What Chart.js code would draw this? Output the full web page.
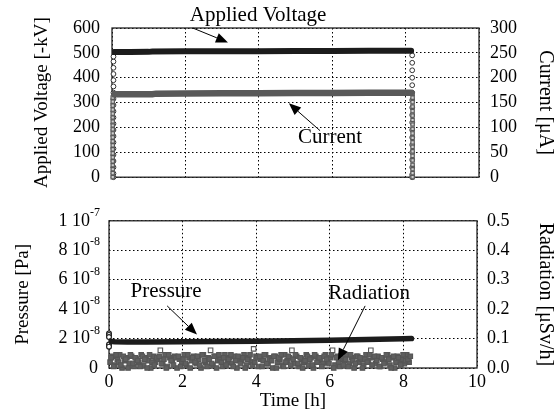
<!DOCTYPE html>
<html><head><meta charset="utf-8">
<script src="https://cdn.jsdelivr.net/npm/chart.js@4/dist/chart.umd.min.js"></script>
<style>
html,body{margin:0;padding:0;background:#fff;overflow:hidden;width:558px;height:411px}
#c1{position:absolute;left:0;top:0}
#c2{position:absolute;left:0;top:200px}
</style>
</head><body>
<canvas id="c1" width="558" height="200"></canvas>
<canvas id="c2" width="558" height="211"></canvas>
<script>
// ---------- DATA ----------
// Top panel: applied voltage [-kV] (left axis) and current [uA] (right axis)
const voltT = [0.05, 0.5, 1.0, 1.1, 2, 3, 4, 5, 6, 7, 8, 8.15];
const voltV = [503, 503, 504, 505, 506, 507, 507, 508, 508, 509, 509, 509];
const voltUpT = 0.04;
const voltUpV = [0, 15, 40, 65, 90, 115, 140, 165, 190, 215, 240, 265, 290, 315, 340, 365, 390, 415, 440, 465, 485];
const voltDownT = 8.18;
const voltDownV = [490, 460, 430, 400, 370, 340, 310, 280, 250, 220, 190, 160, 130, 100, 70, 40, 10, 0];

const curT = [0.03, 0.5, 1.1, 1.2, 2, 3, 4, 5, 6, 7, 8, 8.15];
const curV = [167, 167, 167, 168, 168.5, 169, 169, 169.5, 169.5, 170, 170, 170];
const curUpT = 0.02;
const curUpV = [0, 8, 16, 24, 32, 40, 48, 56, 64, 72, 80, 88, 96, 104, 112, 120, 128, 136, 144, 152, 160];
const curDownT = 8.19;
const curDownV = [168, 160, 151, 142, 133, 124, 115, 106, 97, 88, 79, 70, 61, 52, 43, 34, 25, 16, 8, 0];

// Bottom panel: pressure [Pa] (left axis) and radiation [uSv/h] (right axis)
const presT = [0.03, 0.15, 0.5, 1, 2, 3, 4, 5, 6, 7, 8, 8.22];
const presV = [1.82e-8, 1.78e-8, 1.77e-8, 1.77e-8, 1.78e-8, 1.8e-8, 1.82e-8, 1.85e-8, 1.89e-8, 1.93e-8, 1.98e-8, 2.0e-8];
const presSpikeT = 0.0;
const presSpikeV = [2.35e-8, 2.25e-8, 2.1e-8, 1.6e-8, 1.45e-8];

const radT0 = 0.03;      // first radiation sample time [h]
const radDT = 0.065;     // interval between samples of one reading series [h]
const radA = [
0.02,0.04,0.01,0.03,0.045,0.0,0.025,0.035,0.015,0.04,0.005,0.03,0.02,0.045,
0.01,0.035,0.025,0.0,0.04,0.02,0.03,0.06,0.015,0.045,0.005,0.035,0.025,0.04,
0.0,0.03,0.02,0.045,0.01,0.035,0.025,0.04,0.015,0.03,0.0,0.045,0.02,0.035,
0.06,0.01,0.04,0.025,0.03,0.005,0.045,0.02,0.035,0.015,0.04,0.0,0.03,0.025,
0.045,0.01,0.035,0.02,0.065,0.04,0.005,0.03,0.025,0.045,0.015,0.035,0.0,0.04,
0.02,0.03,0.01,0.045,0.025,0.035,0.06,0.015,0.04,0.005,0.03,0.02,0.045,0.01,
0.035,0.0,0.04,0.025,0.03,0.015,0.045,0.02,0.035,0.06,0.01,0.04,0.005,0.03,
0.025,0.045,0.015,0.035,0.0,0.04,0.02,0.03,0.01,0.045,0.025,0.06,0.035,0.015,
0.04,0.005,0.03,0.02,0.045,0.01,0.035,0.0,0.04,0.025,0.03,0.015,0.045,0.02];
const radB = [
0.035,0.005,0.045,0.02,0.01,0.04,0.03,0.0,0.045,0.015,0.035,0.025,0.005,0.04,
0.03,0.0,0.045,0.02,0.01,0.035,0.04,0.015,0.03,0.0,0.045,0.025,0.01,0.035,
0.04,0.005,0.03,0.015,0.045,0.0,0.035,0.02,0.04,0.01,0.045,0.025,0.005,0.03,
0.015,0.04,0.0,0.045,0.02,0.035,0.01,0.03,0.045,0.005,0.025,0.04,0.015,0.035,
0.0,0.03,0.045,0.01,0.02,0.035,0.04,0.005,0.045,0.015,0.03,0.025,0.04,0.0,
0.035,0.045,0.005,0.02,0.04,0.01,0.03,0.045,0.015,0.035,0.0,0.025,0.04,0.03,
0.01,0.045,0.02,0.035,0.005,0.04,0.03,0.015,0.045,0.0,0.035,0.02,0.04,0.01,
0.03,0.005,0.045,0.025,0.015,0.04,0.035,0.0,0.03,0.02,0.045,0.01,0.04,0.025,
0.005,0.035,0.015,0.045,0.03,0.0,0.04,0.02,0.035,0.01,0.045,0.025,0.03,0.04];

// Axis ranges / ticks
const xTicks = [0, 10, 2];
const voltAxis = [0, 600, 100];
const curAxis = [0, 300, 50];
const presAxis = [0, 1e-7, 2e-8];
const radAxis = [0, 0.5, 0.1];

// ---------- STYLE / HELPERS ----------
const SERIF = "'Liberation Serif','Times New Roman',serif";
Chart.defaults.font.family = SERIF;
Chart.defaults.color = '#000';

const pts = (t, v) => t.map((x, i) => ({x, y: v[i]}));
const col = (t, v) => v.map(y => ({x: t, y}));
const radPts = radA.map((y, i) => ({x: radT0 + i * radDT, y}))
  .concat(radB.map((y, i) => ({x: radT0 + radDT / 2 + i * radDT, y})));

const gridOpts = {color: '#000', lineWidth: 1, drawTicks: false};
const borderOpts = {display: false, dash: [1.5, 2.5]};

const boxPlugin = {
  id: 'box',
  beforeDatasetsDraw(chart) {
    const a = chart.chartArea, c = chart.ctx;
    c.save(); c.strokeStyle = '#222'; c.lineWidth = 1.3;
    c.strokeRect(a.left, a.top, a.right - a.left, a.bottom - a.top);
    c.restore();
  }
};

function annotPlugin(list, yId) {
  return {
    id: 'annot',
    afterDatasetsDraw(chart) {
      const c = chart.ctx, xs = chart.scales.x, ys = chart.scales[yId];
      c.save();
      list.forEach(a => {
        c.font = '21px ' + SERIF; c.fillStyle = '#000';
        c.textAlign = 'center'; c.textBaseline = 'middle';
        c.fillText(a.text, xs.getPixelForValue(a.tx), ys.getPixelForValue(a.ty));
        const x1 = xs.getPixelForValue(a.a[0]), y1 = ys.getPixelForValue(a.a[1]);
        const x2 = xs.getPixelForValue(a.a[2]), y2 = ys.getPixelForValue(a.a[3]);
        const ang = Math.atan2(y2 - y1, x2 - x1), L = 12, W = 5;
        const bx = x2 - L * Math.cos(ang), by = y2 - L * Math.sin(ang);
        c.strokeStyle = '#000'; c.lineWidth = 1;
        c.beginPath(); c.moveTo(x1, y1); c.lineTo(bx, by); c.stroke();
        c.beginPath(); c.moveTo(x2, y2);
        c.lineTo(bx + W * Math.sin(ang), by - W * Math.cos(ang));
        c.lineTo(bx - W * Math.sin(ang), by + W * Math.cos(ang));
        c.closePath(); c.fill();
      });
      c.restore();
    }
  };
}

// ---------- TOP CHART ----------
new Chart(document.getElementById('c1'), {
  type: 'scatter',
  data: {datasets: [
    {data: pts(voltT, voltV), yAxisID: 'y', showLine: true, borderColor: '#1c1c1c', borderWidth: 6, pointRadius: 0, borderCapStyle: 'round'},
    {data: pts(curT, curV), yAxisID: 'y1', showLine: true, borderColor: '#595959', borderWidth: 6.5, pointRadius: 0, borderCapStyle: 'round'},
    {data: col(curUpT, curUpV).concat(col(curDownT, curDownV)), yAxisID: 'y1', pointStyle: 'rect', pointRadius: 2.4, borderColor: '#5a5a5a', backgroundColor: '#cfcfcf', borderWidth: 1.2, clip: 8},
    {data: col(voltUpT, voltUpV).concat(col(voltDownT, voltDownV)), yAxisID: 'y', pointStyle: 'circle', pointRadius: 2.4, borderColor: '#333', backgroundColor: '#fff', borderWidth: 1, clip: 8}
  ]},
  options: {
    responsive: false, animation: false, events: [],
    layout: {padding: {top: 28, left: 0, right: 0, bottom: 0}},
    plugins: {legend: {display: false}, tooltip: {enabled: false}},
    scales: {
      x: {type: 'linear', min: xTicks[0], max: xTicks[1], ticks: {stepSize: xTicks[2], display: false},
          grid: gridOpts, border: borderOpts, afterFit(s) { s.height = 17; }},
      y: {position: 'left', min: voltAxis[0], max: voltAxis[1],
          ticks: {stepSize: voltAxis[2], padding: 12, font: {size: 18}},
          grid: gridOpts, border: borderOpts,
          title: {display: true, text: 'Applied Voltage [-kV]', font: {size: 19}, padding: {top: 31, bottom: 0}},
          afterFit(s) { s.width = 112; }},
      y1: {position: 'right', min: curAxis[0], max: curAxis[1],
          ticks: {stepSize: curAxis[2], padding: 11, font: {size: 18}},
          grid: {display: false, drawTicks: false}, border: {display: false},
          title: {display: true, text: 'Current [μA]', font: {size: 20}, padding: {top: 1, bottom: 0}},
          afterFit(s) { s.width = 79; }}
    }
  },
  plugins: [boxPlugin, annotPlugin([
    {text: 'Applied Voltage', tx: 3.98, ty: 650, a: [2.2, 600, 3.16, 542]},
    {text: 'Current', tx: 5.94, ty: 159, a: [5.67, 187, 4.82, 297]}
  ], 'y')]
});

// ---------- BOTTOM CHART ----------
const presLabelPlugin = {
  id: 'presLabels',
  afterDraw(chart) {
    const s = chart.scales.y, c = chart.ctx, right = 100;
    c.save(); c.fillStyle = '#000'; c.textBaseline = 'middle';
    s.ticks.forEach(t => {
      const v = t.value, y = s.getPixelForValue(v);
      if (Math.abs(v) < 1e-12) {
        c.font = '18px ' + SERIF; c.textAlign = 'right'; c.fillText('0', right - 2, y); return;
      }
      const e = Math.floor(Math.log10(v) + 1e-9);
      const m = Math.round(v / Math.pow(10, e));
      const sup = '-' + Math.abs(e);
      c.font = '12px ' + SERIF; const sw = c.measureText(sup).width;
      c.textAlign = 'left'; c.fillText(sup, right - sw, y - 8);
      c.font = '18px ' + SERIF; c.textAlign = 'right'; c.fillText(m + ' 10', right - sw, y);
    });
    c.restore();
  }
};

new Chart(document.getElementById('c2'), {
  type: 'scatter',
  data: {datasets: [
    {data: pts(presT, presV), yAxisID: 'y', showLine: true, borderColor: '#1c1c1c', borderWidth: 5.5, pointRadius: 0, borderCapStyle: 'round'},
    {data: col(presSpikeT, presSpikeV), yAxisID: 'y', pointStyle: 'circle', pointRadius: 2.4, borderColor: '#222', backgroundColor: '#fff', borderWidth: 1.2, clip: 8},
    {data: radPts, yAxisID: 'y1', pointStyle: 'rect', pointRadius: 3.2, borderColor: '#555', borderWidth: 1.1,
     backgroundColor: ctx => (ctx.raw && ctx.raw.y > 0.052) ? '#fff' : '#5f5f5f', clip: 8}
  ]},
  options: {
    responsive: false, animation: false, events: [],
    layout: {padding: {top: 14, left: 0, right: 0, bottom: 0}},
    plugins: {legend: {display: false}, tooltip: {enabled: false}},
    scales: {
      x: {type: 'linear', min: xTicks[0], max: xTicks[1], ticks: {stepSize: xTicks[2], padding: 3, font: {size: 18}, maxRotation: 0},
          grid: gridOpts, border: borderOpts,
          title: {display: true, text: 'Time [h]', font: {size: 19, lineHeight: 1.0}, padding: {top: 0, bottom: 0}},
          afterFit(s) { s.height = 43; }},
      y: {position: 'left', min: presAxis[0], max: presAxis[1],
          ticks: {stepSize: presAxis[2], display: false},
          grid: gridOpts, border: borderOpts,
          title: {display: true, text: 'Pressure [Pa]', font: {size: 19}, padding: {top: 12, bottom: 0}},
          afterFit(s) { s.width = 109; }},
      y1: {position: 'right', min: radAxis[0], max: radAxis[1],
          ticks: {stepSize: radAxis[2], padding: 10, font: {size: 18}, callback: v => Number(v).toFixed(1)},
          grid: {display: false, drawTicks: false}, border: {display: false},
          title: {display: true, text: 'Radiation [μSv/h]', font: {size: 20}, padding: {top: 1, bottom: 0}},
          afterFit(s) { s.width = 81; }}
    }
  },
  plugins: [boxPlugin, presLabelPlugin, annotPlugin([
    {text: 'Pressure', tx: 1.55, ty: 5.2e-8, a: [1.58, 4.22e-8, 2.39, 2.27e-8]},
    {text: 'Radiation', tx: 7.07, ty: 5.06e-8, a: [6.96, 4.22e-8, 6.22, 0.52e-8]}
  ], 'y')]
});
</script>
</body></html>
